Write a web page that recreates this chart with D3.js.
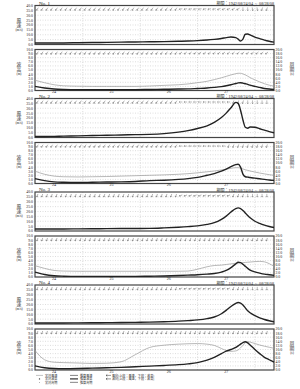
<!DOCTYPE html>
<html lang="ja">
<head>
<meta charset="UTF-8">
<script src="https://cdn.jsdelivr.net/npm/d3@7"></script>
<style>
    body{margin:0;background:#fff;}
    svg text{font-family:"Noto Sans CJK JP",sans-serif;fill:#333;}
    svg .num{font-family:"Liberation Serif",serif;fill:#222;}
</style>
<title>wind and wave hindcast</title>
</head>
<body>
<script>
// hours after 1942/08/24 04:00
var hours = [0,4,8,12,18,24,30,36,42,48,54,60,64,68,72,75,78,80,82,84,85,86,87,88,89,90,92,94,96,98,100];

var wind1 = [1.5,1.5,1.5,1.6,1.8,2.0,2.2,2.4,2.6,2.8,3.0,3.3,3.6,4.0,4.6,5.3,6.2,7.0,7.7,7.0,5.5,3.6,5.5,10.5,10.8,9.8,7.5,6.0,4.5,3.3,2.4];
var wave1 = [1.0,0.6,0.35,0.25,0.2,0.2,0.2,0.2,0.2,0.25,0.3,0.35,0.4,0.5,0.6,0.75,0.95,1.15,1.4,1.7,1.85,1.9,1.8,1.65,1.5,1.3,1.0,0.75,0.5,0.35,0.25];
var period1 = [5.0,3.8,2.8,2.3,2.1,2.0,2.0,2.0,2.0,2.2,2.5,2.8,3.2,3.8,4.5,5.3,6.2,6.9,7.6,8.2,8.4,8.4,8.1,7.6,7.0,6.3,5.2,4.2,3.3,2.6,2.1];

var wind2 = [1.0,1.0,1.2,1.4,1.7,2.0,2.3,2.6,2.9,3.2,4.0,5.5,7.0,9.2,12.0,15.5,20.5,25.0,30.5,36.0,35.0,28.0,18.0,10.5,9.5,10.8,10.5,9.0,7.5,6.0,4.8];
var wave2 = [1.2,0.7,0.4,0.3,0.25,0.3,0.35,0.4,0.5,0.7,0.8,1.0,1.2,1.5,2.0,2.4,3.0,3.5,4.1,4.6,4.7,4.0,2.3,1.65,1.55,1.45,1.3,1.15,1.0,0.85,0.75];
var period2 = [6.0,4.5,3.6,3.3,3.2,3.3,3.4,3.6,3.8,4.0,4.2,4.5,4.8,5.2,5.7,6.1,6.6,7.0,7.4,7.7,7.7,7.5,7.1,6.7,6.4,6.1,5.6,5.1,4.7,4.3,4.0];

var wind3 = [2.0,2.0,2.0,2.1,2.2,2.3,2.4,2.5,2.6,2.7,3.2,3.9,4.5,5.3,6.8,8.5,12.0,15.3,19.5,23.0,23.7,23.0,21.0,18.5,15.8,13.5,10.0,7.8,6.0,4.6,3.6];
var wave3 = [1.2,0.6,0.3,0.2,0.15,0.15,0.15,0.15,0.15,0.2,0.25,0.35,0.45,0.55,0.7,0.85,1.2,1.6,2.3,3.2,3.6,3.5,3.1,2.6,2.1,1.7,1.25,0.95,0.7,0.55,0.4];
var period3 = [5.5,4.2,3.2,2.9,2.8,2.8,2.8,2.8,2.8,2.8,2.8,2.8,2.9,3.8,5.0,5.6,5.8,6.1,6.4,6.7,6.8,6.9,7.0,7.1,7.2,7.3,7.5,7.6,7.4,6.5,5.2];

var wind4 = [1.0,1.0,1.0,1.1,1.2,1.3,1.4,1.5,1.7,1.9,2.3,2.9,3.5,4.2,5.5,7.2,10.5,14.0,18.0,21.2,22.0,21.5,19.5,16.5,13.5,11.5,8.5,6.3,4.6,3.3,2.3];
var wave4 = [1.0,0.55,0.35,0.3,0.35,0.45,0.55,0.65,0.8,0.95,1.1,1.3,1.5,1.8,2.4,3.1,4.0,4.6,5.0,5.5,5.9,6.3,6.7,6.9,6.6,6.1,5.0,4.0,3.1,2.5,1.9];
var period4 = [9.5,5.0,3.8,3.6,3.4,3.2,3.3,4.0,7.5,11.0,12.1,12.6,12.8,12.9,12.6,12.0,10.5,9.5,9.1,9.3,9.8,10.8,12.0,13.3,13.8,13.6,12.9,12.2,11.6,11.1,10.6];

// direction arrows, degrees the arrow points to (clockwise from up), every 2 h from hour 1
var arrowHours = [1,3,5,7,9,11,13,15,17,19,21,23,25,27,29,31,33,35,37,39,41,43,45,47,49,51,53,55,57,59,61,63,65,67,69,71,73,75,77,79,81,83,85,87,89,91,93,95,97];
var windDir1 = [215,215,215,215,215,215,215,215,215,215,215,215,215,215,215,215,215,215,215,215,215,215,215,215,215,215,215,215,215,215,260,260,260,260,260,260,260,260,250,250,250,240,240,180,180,170,170,200,200];
var waveDir1 = [215,215,215,215,215,215,215,215,215,215,215,215,215,215,215,215,215,215,215,215,215,215,215,215,215,215,215,215,215,215,230,230,230,230,230,230,230,230,230,230,230,230,230,230,230,230,230,230,230];
var windDir2 = [215,215,215,215,215,215,215,215,215,215,215,215,215,215,215,215,215,215,215,215,215,215,215,215,215,215,215,215,215,215,270,270,270,270,270,270,270,270,270,270,270,200,200,200,180,180,180,180,180];
var waveDir2 = [215,215,215,215,215,215,215,215,215,215,215,215,215,215,215,215,215,215,215,215,215,215,215,215,215,215,215,215,215,215,270,270,270,270,270,270,270,270,270,270,200,200,200,200,200,200,200,200,200];
var windDir3 = [200,200,200,200,200,200,200,200,200,200,200,200,200,200,200,200,200,200,200,200,200,200,200,200,200,200,200,200,200,200,250,250,250,250,250,250,250,250,250,250,250,200,200,200,180,180,180,180,180];
var waveDir3 = [200,200,200,200,200,200,200,200,200,200,200,200,200,200,200,200,200,200,200,200,200,200,200,200,200,200,200,200,200,200,200,200,200,200,200,200,200,200,200,200,200,200,200,200,200,200,200,200,200];
var windDir4 = [200,200,200,200,200,200,200,200,200,200,200,200,200,200,200,200,200,200,200,200,200,200,200,200,200,200,200,200,200,200,250,250,250,250,250,250,250,250,250,250,250,200,200,200,180,180,180,180,180];
var waveDir4 = [200,200,200,200,200,200,200,200,200,200,200,200,200,200,200,200,200,200,200,200,200,200,200,200,200,200,200,200,200,200,200,200,200,200,200,200,200,200,200,200,200,200,200,200,200,200,200,200,200];

var stationNames = ["No.   1","No.   2","No.   3","No.   4"];
var windTicks = [0,5,10,15,20,25,30,35,40];
var waveTicks = [0,1,2,3,4,5,6,7,8,9,10];
var periodTicks = [0,2,4,6,8,10,12,14,16,18,20];
var dayLabels = ["24","25","26","27"];
var dayLabelHours = [8,32,56,80];
var dayLineHours = [20,44,68,92];
var periodHead = "期間：";
var periodRange = "1942/08/24/04 ～ 08/28/08";

var legendCol1 = ["実測風速","実測波高","実測周期"];
var legendCol2 = ["推算風速","推算波高","推算周期"];
var legendCol3 = ["風向(上段：風速，下段：波高)","波向(上段：風速，下段：波高)"];

var stations = [
    {wind:wind1, wave:wave1, period:period1, wd:windDir1, vd:waveDir1},
    {wind:wind2, wave:wave2, period:period2, wd:windDir2, vd:waveDir2},
    {wind:wind3, wave:wave3, period:period3, wd:windDir3, vd:waveDir3},
    {wind:wind4, wave:wave4, period:period4, wd:windDir4, vd:waveDir4}
];

var left = 35, right = 274;
var stationTop = [5.5,98.5,192,285];
var windH = 39, gapH = 5, waveH = 41;

var svg = d3.select("body").append("svg")
    .attr("width",300)
    .attr("height",389);

var x = d3.scaleLinear().domain([0,100]).range([left,right]);
var fmt = d3.format(".1f");

// chrome won't draw text below 6px, so draw at double size and scale down
function txt(sel,px,py,size,s,anchor,cls){
    return sel.append("text")
        .attr("class",cls||null)
        .attr("transform","translate("+px+","+py+") scale(0.5)")
        .attr("font-size",size*2)
        .attr("text-anchor",anchor||"start")
        .text(s);
}

// stacked axis title: two kanji and the unit, one text element
function stacked(sel,px,py,a,b,unit){
    var t = sel.append("text")
        .attr("transform","translate("+px+","+py+") scale(0.5)")
        .attr("font-size",9.6)
        .attr("text-anchor","middle");
    t.append("tspan").attr("x",0).attr("y",0).text(a);
    t.append("tspan").attr("x",0).attr("y",10).text(b);
    t.append("tspan").attr("class","num").attr("x",0).attr("y",18.6)
        .attr("font-size",6.8).text(unit);
}

function panel(g, top, h, y, ticks){
    g.selectAll(".hg").data(ticks.slice(1,-1)).enter().append("line")
        .attr("x1",left).attr("x2",right)
        .attr("y1",function(d){return y(d);})
        .attr("y2",function(d){return y(d);})
        .attr("stroke","#aaa").attr("stroke-width",0.4)
        .attr("stroke-dasharray","1,1.5");
    g.selectAll(".vg").data(dayLineHours).enter().append("line")
        .attr("x1",function(d){return x(d);})
        .attr("x2",function(d){return x(d);})
        .attr("y1",top).attr("y2",top+h)
        .attr("stroke","#aaa").attr("stroke-width",0.4)
        .attr("stroke-dasharray","1,1.5");
    g.selectAll(".lt").data(ticks).enter().append("text")
        .attr("class","num")
        .attr("transform",function(d){return "translate("+(left-2)+","+(y(d)+1.4)+") scale(0.5)";})
        .attr("text-anchor","end")
        .attr("font-size",7.6)
        .text(function(d){return fmt(d);});
    g.append("rect")
        .attr("x",left).attr("y",top)
        .attr("width",right-left).attr("height",h)
        .attr("fill","none").attr("stroke","#444").attr("stroke-width",1.2);
}

function arrows(g, dirs, ay){
    g.selectAll(".ar").data(dirs).enter().append("path")
        .attr("transform",function(d,k){return "translate("+x(arrowHours[k])+","+ay+") rotate("+d+")";})
        .attr("d","M0,1.6L0,-1.6M-0.8,-0.7L0,-1.6L0.8,-0.7")
        .attr("fill","none").attr("stroke","#555").attr("stroke-width",0.4);
}

function drawLine(g, vals, y, color, w){
    g.append("path")
        .datum(vals)
        .attr("fill","none").attr("stroke",color).attr("stroke-width",w)
        .attr("d",d3.line()
            .x(function(d,k){return x(hours[k]);})
            .y(function(d){return y(d);})
            .curve(d3.curveMonotoneX));
}

stations.forEach(function(st,i){
    var t = stationTop[i];
    var g = svg.append("g");

    txt(g,left+4,t-0.8,5,stationNames[i],"start","num");
    var dt = txt(g,right,t-0.4,4,periodHead,"end");
    dt.append("tspan").attr("class","num").attr("font-size",8.4).text(periodRange);

    // wind panel
    var yW = d3.scaleLinear().domain([0,40]).range([t+windH,t]);
    panel(g,t,windH,yW,windTicks);
    arrows(g,st.wd,t+3.5);
    drawLine(g,st.wind,yW,"#222",1.4);
    stacked(g,19,t+16,"風","速","(m/s)");

    // wave panel
    var wt = t+windH+gapH;
    var yH = d3.scaleLinear().domain([0,10]).range([wt+waveH,wt]);
    var yP = d3.scaleLinear().domain([0,20]).range([wt+waveH,wt]);
    panel(g,wt,waveH,yH,waveTicks);
    g.selectAll(".rt").data(periodTicks).enter().append("text")
        .attr("class","num")
        .attr("transform",function(d){return "translate("+(right+1.5)+","+(yP(d)+1.4)+") scale(0.5)";})
        .attr("font-size",7.6)
        .text(function(d){return fmt(d);});
    arrows(g,st.vd,wt+3.5);
    drawLine(g,st.period,yP,"#999",0.7);
    drawLine(g,st.wave,yH,"#222",1.4);
    stacked(g,19,wt+16,"波","高","(m)");
    stacked(g,292,wt+16,"周","期","(s)");

    dayLabels.forEach(function(d,k){
        txt(g,x(dayLabelHours[k]),wt+waveH+2.8,4,d,"middle","num");
    });
});

// legend
var ly = [375.4,378.9,382.4];
legendCol1.forEach(function(d,i){ txt(svg,45,ly[i]+1.1,3.1,d); });
legendCol2.forEach(function(d,i){ txt(svg,80,ly[i]+1.1,3.1,d); });
legendCol3.forEach(function(d,i){ txt(svg,112,ly[i]+1.1,3.1,d); });
svg.append("line").attr("x1",36).attr("x2",43).attr("y1",ly[0]).attr("y2",ly[0])
    .attr("stroke","#999").attr("stroke-width",0.6);
svg.append("circle").attr("cx",39.5).attr("cy",ly[1]).attr("r",0.7).attr("fill","#333");
svg.append("circle").attr("cx",39.5).attr("cy",ly[2]).attr("r",0.4).attr("fill","#333");
[0,1,2].forEach(function(i){
    svg.append("line").attr("x1",70).attr("x2",78).attr("y1",ly[i]).attr("y2",ly[i])
        .attr("stroke",i==2?"#999":"#333").attr("stroke-width",i==0?0.6:1.2);
});
[0,1].forEach(function(i){
    svg.append("path")
        .attr("d","M106,"+ly[i]+"L111,"+ly[i]+"M107.3,"+(ly[i]-0.9)+"L106,"+ly[i]+"L107.3,"+(ly[i]+0.9))
        .attr("fill","none").attr("stroke","#333").attr("stroke-width",0.5);
});
</script>
</body>
</html>
